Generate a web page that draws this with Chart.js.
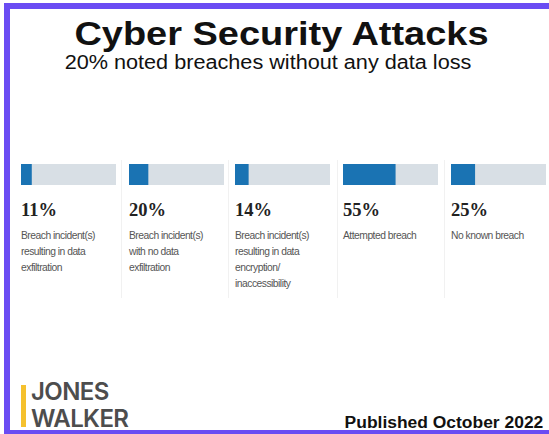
<!DOCTYPE html>
<html>
<head>
<meta charset="utf-8">
<script src="https://cdn.jsdelivr.net/npm/chart.js@4"></script>
<style>
  html,body{margin:0;padding:0;background:#fff;}
  #frame{position:relative;width:549px;height:434px;overflow:hidden;background:#fff;}
  .border-l{position:absolute;left:4px;top:3px;width:6px;height:431px;background:#6a4cf3;}
  .border-t{position:absolute;left:4px;top:3px;width:545px;height:6px;background:#6a4cf3;}
  .border-b{position:absolute;left:4px;top:430px;width:545px;height:4px;background:#6a4cf3;}
  .title{position:absolute;left:0;width:563px;top:18px;height:31px;line-height:31px;text-align:center;font-weight:bold;font-size:33px;font-family:"Liberation Sans",Arial,sans-serif;color:#111;transform:scaleX(1.15);}
  .subtitle{position:absolute;left:0;width:536px;top:54px;height:17px;line-height:17px;text-align:center;font-size:19.5px;font-family:"Liberation Sans",Arial,sans-serif;color:#111;transform:scaleX(1.11);}
  .col{position:absolute;top:164px;width:95px;}
  .col canvas{display:block;}
  .pct{position:absolute;top:36px;left:0;font:bold 18.5px "Liberation Serif","DejaVu Serif",serif;color:#222;white-space:nowrap;}
  .lbl{position:absolute;top:64px;left:0;font:10.3px "Liberation Sans",Arial,sans-serif;letter-spacing:-0.5px;color:#555;line-height:16px;white-space:nowrap;}
  .sep{position:absolute;top:160px;width:1px;height:138px;background:#f1f1f1;}
  .logo-bar{position:absolute;left:21px;top:385px;width:5px;height:42px;background:#f5c12e;}
  .logo{position:absolute;left:31px;font:600 24px Inter,"Liberation Sans",sans-serif;color:#4d4d4d;line-height:27px;letter-spacing:-0.6px;white-space:nowrap;}
  .pub{position:absolute;right:6px;top:414px;font:bold 16px "Liberation Sans",Arial,sans-serif;color:#111;transform:scaleX(1.09);transform-origin:right center;}
</style>
</head>
<body>
<div id="frame">
  <div class="border-t"></div>
  <div class="border-l"></div>
  <div class="border-b"></div>
  <div class="title">Cyber Security Attacks</div>
  <div class="subtitle">20% noted breaches without any data loss</div>
  <div class="logo-bar"></div>
  <div class="logo" style="top:378px">JONES</div>
  <div class="logo" style="top:405px">WALKER</div>
  <div class="pub">Published October 2022</div>
</div>
<script>
// data
const values = [11, 20, 14, 55, 25];
const trackMax = 100;
const categoryLines = [
  ['Breach incident(s)', 'resulting in data', 'exfiltration'],
  ['Breach incident(s)', 'with no data', 'exfiltration'],
  ['Breach incident(s)', 'resulting in data', 'encryption/', 'inaccessibility'],
  ['Attempted breach'],
  ['No known breach']
];

const colLeft = [21, 129, 235, 343, 451];
const sepLeft = [121, 228, 337, 444];
const barColor = '#1a73b3';
const trackColor = '#d8dfe5';

const frame = document.getElementById('frame');

sepLeft.forEach(x=>{
  const s = document.createElement('div'); s.className='sep'; s.style.left = x+'px';
  frame.appendChild(s);
});

values.forEach((v,i)=>{
  const col = document.createElement('div');
  col.className = 'col'; col.style.left = colLeft[i]+'px';
  const cv = document.createElement('canvas'); cv.width = 95; cv.height = 21;
  col.appendChild(cv);
  const pct = document.createElement('div'); pct.className='pct'; pct.textContent = v+'%';
  col.appendChild(pct);
  const lbl = document.createElement('div'); lbl.className='lbl'; lbl.innerHTML = categoryLines[i].join('<br>');
  col.appendChild(lbl);
  frame.appendChild(col);

  new Chart(cv, {
    type:'bar',
    data:{
      labels:[''],
      datasets:[
        {data:[v], backgroundColor:barColor, grouped:false, barPercentage:1, categoryPercentage:1},
        {data:[trackMax], backgroundColor:trackColor, grouped:false, barPercentage:1, categoryPercentage:1}
      ]
    },
    options:{
      indexAxis:'y', responsive:false, animation:false, devicePixelRatio:1,
      layout:{padding:0},
      plugins:{legend:{display:false}, tooltip:{enabled:false}},
      scales:{
        x:{min:0, max:trackMax, display:false},
        y:{display:false}
      }
    }
  });
});
</script>
</body>
</html>
